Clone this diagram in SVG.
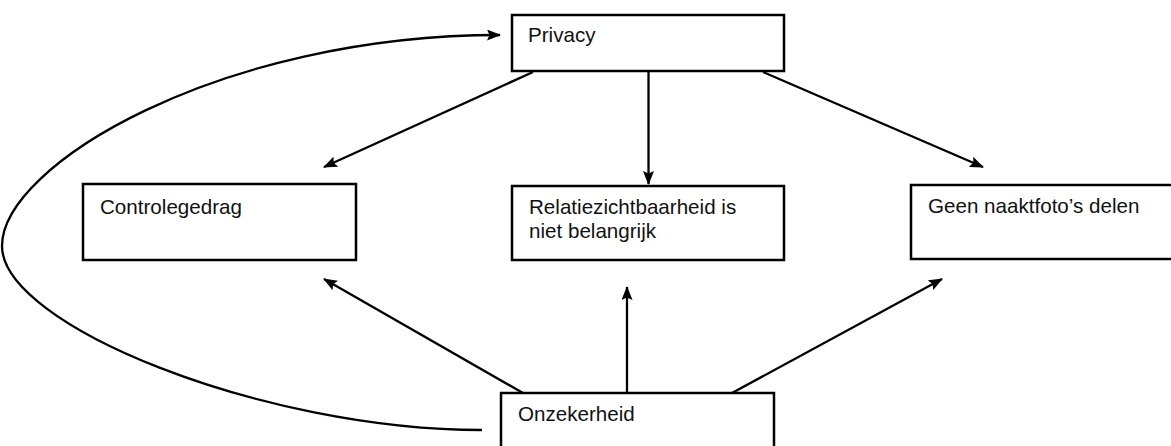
<svg xmlns="http://www.w3.org/2000/svg" width="1171" height="446" viewBox="0 0 1171 446">
<style>
.box{fill:#fff;stroke:#000;stroke-width:2.5}
.lbl{font-family:"Liberation Sans",Arial,sans-serif;font-size:20.6px;fill:#111}
.con{fill:none;stroke:#000;stroke-width:2.3}
</style>
<defs>
<marker id="ah" viewBox="0 0 14 11" refX="13" refY="5.5" markerWidth="14" markerHeight="11" markerUnits="userSpaceOnUse" orient="auto">
<path d="M0,0 L14,5.5 L0,11 L2.5,5.5 Z" fill="#000"/>
</marker>
</defs>
<rect width="1171" height="446" fill="#fff"/>
<g id="connectors">
<line class="con" x1="533" y1="72" x2="324" y2="167" marker-end="url(#ah)"/>
<line class="con" x1="648.5" y1="72" x2="648.5" y2="184" marker-end="url(#ah)"/>
<line class="con" x1="763" y1="72" x2="983" y2="167" marker-end="url(#ah)"/>
<line class="con" x1="523" y1="393" x2="324" y2="279" marker-end="url(#ah)"/>
<line class="con" x1="627" y1="393" x2="627" y2="287" marker-end="url(#ah)"/>
<line class="con" x1="732" y1="393" x2="942" y2="279" marker-end="url(#ah)"/>
<path class="con" d="M482,430 C262,430 2,325 2,246 C2,165 220,35 500,35" marker-end="url(#ah)"/>
</g>
<g id="privacy">
<rect class="box" x="512" y="15" width="272" height="56"/>
<text class="lbl" x="528" y="42">Privacy</text>
</g>
<g id="controlegedrag">
<rect class="box" x="83" y="184" width="273" height="76"/>
<text class="lbl" x="100" y="214">Controlegedrag</text>
</g>
<g id="relatiezichtbaarheid">
<rect class="box" x="512" y="186" width="272" height="74"/>
<text class="lbl" x="529" y="214">Relatiezichtbaarheid is</text>
<text class="lbl" x="529" y="238">niet belangrijk</text>
</g>
<g id="naaktfotos">
<rect class="box" x="911" y="185" width="273" height="74"/>
<text class="lbl" x="928" y="213">Geen naaktfoto’s delen</text>
</g>
<g id="onzekerheid">
<rect class="box" x="501" y="393" width="273" height="70"/>
<text class="lbl" x="518" y="421">Onzekerheid</text>
</g>
</svg>
